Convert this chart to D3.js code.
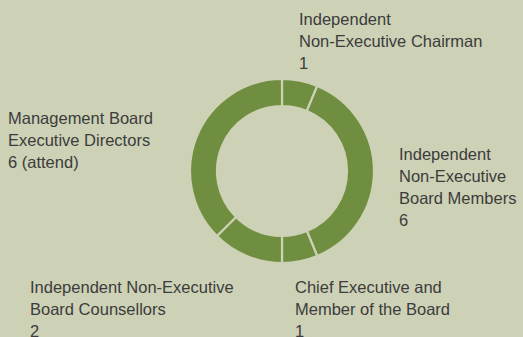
<!DOCTYPE html>
<html>
<head>
<meta charset="utf-8">
<script src="https://cdn.jsdelivr.net/npm/d3@7"></script>
<style>
  html, body { margin: 0; padding: 0; background: #cdd1b6; }
  svg { display: block; }
  text { font-family: "Liberation Sans", Arial, Helvetica, sans-serif; font-size: 16.5px; fill: #3c3c3c; }
</style>
</head>
<body>
<div id="chart"></div>
<script>
// Board composition, clockwise from 12 o'clock
const roles = [
  "Independent Non-Executive Chairman",
  "Independent Non-Executive Board Members",
  "Chief Executive and Member of the Board",
  "Independent Non-Executive Board Counsellors",
  "Management Board Executive Directors"
];
const counts = [1, 6, 1, 2, 6];
const labelLines = [
  ["Independent", "Non-Executive Chairman", "1"],
  ["Independent", "Non-Executive", "Board Members", "6"],
  ["Chief Executive and", "Member of the Board", "1"],
  ["Independent Non-Executive", "Board Counsellors", "2"],
  ["Management Board", "Executive Directors", "6 (attend)"]
];

const W = 523, H = 337;
const cx = 282, cy = 171, rOuter = 92, rInner = 65;
const bg = "#cdd1b6", ring = "#6f8e3f";

// label anchors (left edge, first baseline)
const labelPos = [
  [299, 24.5], [399, 159.5], [295, 292.5], [30, 292.5], [8, 124]
];
const lineH = 22;

const svg = d3.select("#chart").append("svg")
  .attr("width", W).attr("height", H);

svg.append("rect").attr("width", W).attr("height", H).attr("fill", bg);

const data = roles.map((r, i) => ({ role: r, value: counts[i], lines: labelLines[i] }));

const pie = d3.pie().value(d => d.value).sort(null);
const arc = d3.arc().innerRadius(rInner).outerRadius(rOuter);

const g = svg.append("g").attr("transform", `translate(${cx},${cy})`);
g.selectAll("path")
  .data(pie(data))
  .join("path")
  .attr("d", arc)
  .attr("fill", ring)
  .attr("stroke", bg)
  .attr("stroke-width", 2.2);

const labels = svg.append("g").selectAll("text")
  .data(data)
  .join("text")
  .attr("x", (d, i) => labelPos[i][0])
  .attr("y", (d, i) => labelPos[i][1]);

labels.selectAll("tspan")
  .data((d, i) => d.lines.map(l => ({ t: l, x: labelPos[i][0] })))
  .join("tspan")
  .attr("x", d => d.x)
  .attr("dy", (d, j) => j === 0 ? 0 : lineH)
  .text(d => d.t);
</script>
</body>
</html>
